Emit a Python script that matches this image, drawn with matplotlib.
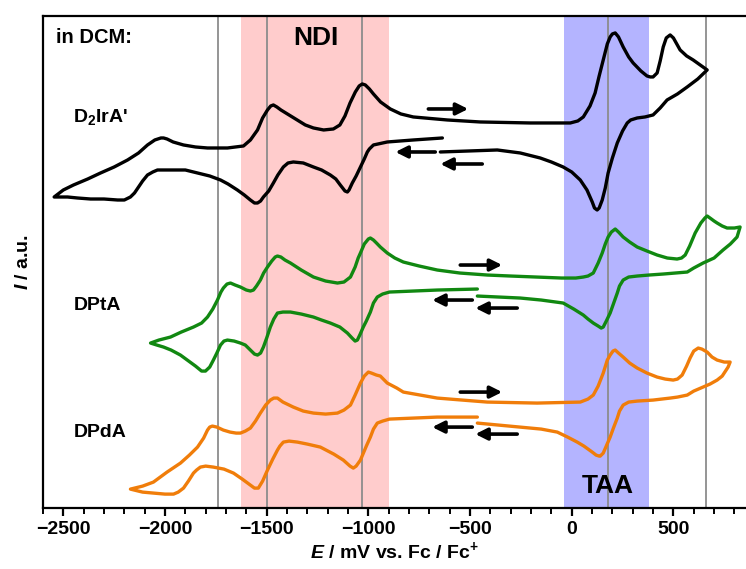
import matplotlib
matplotlib.use("Agg")
import matplotlib.pyplot as plt
from matplotlib.ticker import MultipleLocator

plt.rcParams['font.family'] = ['Liberation Sans', 'DejaVu Sans']
plt.rcParams['mathtext.fontset'] = 'custom'
plt.rcParams['mathtext.rm'] = 'Liberation Sans:bold'
plt.rcParams['mathtext.it'] = 'Liberation Sans:bold:italic'
plt.rcParams['mathtext.bf'] = 'Liberation Sans:bold'

# ---------------- data (E in mV vs Fc/Fc+, I in a.u. incl. offsets) ----------------
# D2IrA' : start -> negative reversal -> forward scan -> positive reversal -> back
ir_E = [-636, -779, -907, -975, -995, -1005, -1020, -1039, -1060, -1079, -1095, -1103,
        -1115, -1138, -1160, -1187, -1230, -1270, -1320, -1369, -1395, -1418, -1445,
        -1467, -1490, -1516, -1530, -1545, -1560, -1580, -1610, -1644, -1690, -1727,
        -1780, -1840, -1900, -1958, -2010, -2037, -2060, -2086, -2110, -2130, -2150,
        -2170, -2200, -2233, -2300, -2366, -2430, -2479, -2545,
        -2500, -2450, -2380, -2317, -2250, -2184, -2130, -2086, -2050, -2020, -2007,
        -1990, -1960, -1909, -1850, -1791, -1693, -1614, -1580, -1545, -1520, -1496,
        -1480, -1467, -1450, -1430, -1398, -1349, -1310, -1270, -1220, -1172, -1140,
        -1115, -1090, -1064, -1045, -1030, -1015, -995, -975, -940, -892, -840, -779,
        -612, -450, -204, -7, 30, 57, 90, 115, 135, 155, 175, 189, 200, 214, 230, 253,
        280, 302, 340, 370, 386, 400, 420, 435, 450, 465, 484, 500, 533, 565, 597, 666,
        620, 568, 520, 469, 435, 400, 360, 322, 290, 273, 250, 224, 200, 179, 165, 150,
        135, 125, 112, 101, 75, 42, 0, -42, -100, -155, -253, -366, -514, -646]
ir_I = [370, 368, 366, 363, 359, 356, 349, 341, 332, 325, 318, 316,
        317, 323, 329, 333, 338, 341, 345, 346, 345, 341, 333,
        325, 317, 311, 307, 305, 305, 308, 313, 318, 324, 328,
        332, 335, 338, 338, 338, 338, 336, 333, 327, 321, 315,
        311, 308, 308, 309, 309, 310, 311, 311,
        318, 323, 329, 335, 341, 348, 355, 363, 368, 370, 370,
        369, 366, 363, 361, 360, 360, 362, 368, 378, 390, 398,
        402, 403, 401, 398, 394, 388, 383, 380, 378, 379, 383,
        392, 405, 416, 422, 424, 423, 419, 414, 406, 399, 394, 391,
        388, 386, 385, 385, 387, 391, 402, 415, 432, 448, 464, 471, 474, 475, 471, 461,
        451, 445, 437, 432, 431, 431, 435, 447, 461, 470, 473, 470, 458, 452, 448, 438,
        429, 421, 414, 408, 400, 393, 391, 390, 388, 385, 377, 365, 350, 335, 320, 308,
        300, 298, 300, 306, 318, 328, 336, 341, 346, 350, 355, 358, 357, 356]

# DPtA
pt_E = [-464, -661, -896, -930, -956, -975, -990, -1010, -1025, -1040, -1054, -1065,
        -1080, -1103, -1140, -1187, -1230, -1270, -1330, -1383, -1420, -1447, -1465,
        -1482, -1500, -1516, -1530, -1545, -1560, -1580, -1605, -1629, -1660, -1693,
        -1710, -1727, -1745, -1762, -1780, -1801, -1820, -1850, -1890, -1924, -1970,
        -2007, -2040, -2071,
        -2030, -1973, -1920, -1860, -1820, -1791, -1765, -1742, -1725, -1713, -1695,
        -1678, -1655, -1629, -1600, -1580, -1565, -1550, -1531, -1515, -1496, -1475,
        -1458, -1447, -1430, -1410, -1383, -1330, -1270, -1210, -1152, -1120, -1088,
        -1065, -1050, -1039, -1020, -1000, -990, -975, -960, -941, -907, -870, -828,
        -750, -661, -550, -415, -300, -170, -50, 20, 57, 80, 106, 130, 150, 165, 179,
        195, 214, 230, 253, 285, 322, 370, 420, 470, 518, 540, 558, 580, 607, 635, 655,
        666, 680, 700, 715, 740, 764, 800, 828,
        813, 780, 744, 700, 646, 600, 568, 510, 450, 380, 322, 280, 253, 235, 224, 205,
        189, 170, 155, 145, 130, 106, 80, 57, 10, -42, -150, -253, -464]
pt_I = [219, 218, 216, 214, 211, 205, 196, 187, 181, 174, 168, 167,
        170, 175, 181, 185, 188, 191, 194, 196, 196, 195, 189,
        181, 170, 161, 155, 153, 154, 158, 163, 165, 167, 168,
        167, 163, 155, 148, 141, 137, 137, 142, 148, 153, 158,
        161, 163, 165,
        168, 171, 176, 181, 185, 191, 199, 208, 216, 220, 224,
        225, 223, 221, 218, 217, 218, 222, 228, 235, 241, 247,
        251, 252, 251, 248, 245, 238, 231, 227, 225, 226, 231,
        241, 250, 255, 264, 269, 270, 268, 265, 261, 255, 250, 246,
        242, 238, 235, 233, 232, 231, 230, 230, 231, 232, 235, 245, 255, 264, 271,
        276, 279, 276, 271, 266, 261, 257, 253, 250, 249, 250, 253, 262, 275, 285, 290,
        292, 290, 287, 285, 282, 280, 280, 281,
        271, 264, 258, 250, 245, 240, 236, 235, 234, 233, 232, 231, 228, 222, 215, 204,
        195, 187, 181, 180, 182, 185, 189, 193, 199, 205, 208, 210, 212]

# DPdA
pd_E = [-464, -661, -896, -930, -956, -975, -990, -1010, -1039, -1060, -1074, -1090,
        -1123, -1170, -1236, -1300, -1349, -1390, -1418, -1435, -1447, -1470, -1496,
        -1520, -1541, -1560, -1580, -1620, -1663, -1710, -1762, -1800, -1826, -1845,
        -1860, -1885, -1909, -1935, -1958, -2000, -2057, -2110, -2170,
        -2110, -2057, -1990, -1924, -1880, -1840, -1810, -1791, -1780, -1767, -1745,
        -1713, -1680, -1650, -1629, -1605, -1580, -1555, -1531, -1505, -1482, -1465,
        -1447, -1420, -1369, -1320, -1270, -1210, -1152, -1120, -1088, -1065, -1050,
        -1039, -1020, -1000, -985, -960, -941, -907, -860, -828, -661, -415, -170, 42,
        80, 106, 130, 155, 175, 189, 203, 214, 230, 253, 285, 322, 370, 420, 460, 499,
        520, 543, 565, 582, 600, 622, 640, 666, 690, 715, 750, 779,
        769, 740, 715, 680, 646, 600, 568, 520, 484, 400, 322, 280, 253, 235, 224, 205,
        189, 170, 155, 140, 135, 120, 101, 60, 27, -20, -71, -150, -253, -464]
pd_I = [91, 91, 89, 87, 85, 79, 71, 62, 48, 42, 40, 42,
        48, 54, 61, 64, 66, 67, 66, 62, 58, 49, 38,
        27, 20, 20, 23, 29, 35, 39, 41, 42, 41, 38,
        35, 27, 20, 16, 14, 14, 15, 16, 19,
        22, 26, 36, 45, 53, 61, 70, 78, 81, 82, 81,
        78, 76, 75, 75, 77, 80, 87, 95, 103, 108, 110,
        110, 106, 101, 97, 95, 94, 95, 98, 103, 113, 120,
        125, 132, 136, 135, 133, 132, 125, 120, 116, 110, 106, 105, 106,
        109, 113, 122, 135, 148, 153, 157, 158, 155, 151, 145, 140, 135, 131, 129, 128,
        129, 133, 142, 150, 157, 160, 159, 156, 151, 148, 146, 146,
        141, 132, 128, 124, 121, 117, 113, 111, 110, 108, 107, 106, 103, 97, 90, 80,
        71, 62, 55, 52, 52, 53, 56, 62, 66, 71, 76, 79, 81, 85]

# scan-direction arrows: (E_start, E_end, I)
ir_arrows = [(-705, -509, 399), (-671, -867, 356), (-440, -646, 344)]
pt_arrows = [(-548, -342, 243), (-489, -686, 208), (-268, -474, 200)]
pd_arrows = [(-548, -342, 116), (-489, -686, 81), (-268, -474, 74)]

ref_lines = [-1740, -1500, -1030, 180, 660]
ndi_span = (-1625, -900)
taa_span = (-40, 380)

curve_labels = ["D$_2$IrA'", "DPtA", "DPdA"]
label_I = [391, 203, 76]
colors = ['black', '#118811', '#F07D0A']

# ---------------- figure ----------------
fig = plt.figure(figsize=(7.46, 5.69), dpi=100)
ax = fig.add_axes([0.0576, 0.107, 0.9424, 0.865])

ax.axvspan(*ndi_span, color='#FFCCCC', lw=0, zorder=0)
ax.axvspan(*taa_span, color='#B4B4FF', lw=0, zorder=0)
for x in ref_lines:
    ax.axvline(x, color='#8C8C8C', lw=1.3, zorder=1)

for E, I, c in zip([ir_E, pt_E, pd_E], [ir_I, pt_I, pd_I], colors):
    ax.plot(E, I, color=c, lw=2.4, solid_joinstyle='round', solid_capstyle='round', zorder=3)

for arrows in (ir_arrows, pt_arrows, pd_arrows):
    for e0, e1, i in arrows:
        ax.annotate('', xy=(e1, i), xytext=(e0, i),
                    arrowprops=dict(arrowstyle='-|>,head_length=0.7,head_width=0.35',
                                    color='black', lw=2.6, shrinkA=0, shrinkB=0),
                    zorder=4)

for lab, yi in zip(curve_labels, label_I):
    ax.text(-2450, yi, lab, fontsize=14, fontweight='bold', ha='left', va='center')

ax.text(-2538, 470, "in DCM:", fontsize=14.5, fontweight='bold', ha='left', va='center')
ax.text(-1260, 470, "NDI", fontsize=19, fontweight='bold', ha='center', va='center')
ax.text(179, 22, "TAA", fontsize=19, fontweight='bold', ha='center', va='center')

ax.set_xlim(-2600, 857)
ax.set_ylim(0, 492)
ax.xaxis.set_major_locator(MultipleLocator(500))
ax.xaxis.set_minor_locator(MultipleLocator(100))
ax.set_yticks([])
ax.spines['right'].set_visible(False)
for s in ('left', 'top', 'bottom'):
    ax.spines[s].set_linewidth(1.6)
ax.tick_params(axis='x', which='major', direction='out', length=6, width=1.6,
               labelsize=14, pad=3)
ax.tick_params(axis='x', which='minor', direction='out', length=4, width=1.4)
for lbl in ax.get_xticklabels():
    lbl.set_fontweight('bold')

ax.set_xlabel("$E$ / mV vs. Fc / Fc$^{+}$", fontsize=14, fontweight='bold', labelpad=2)
ax.set_ylabel("$I$ / a.u.", fontsize=14, fontweight='bold', labelpad=8)

fig.savefig("out.png", dpi=100)
